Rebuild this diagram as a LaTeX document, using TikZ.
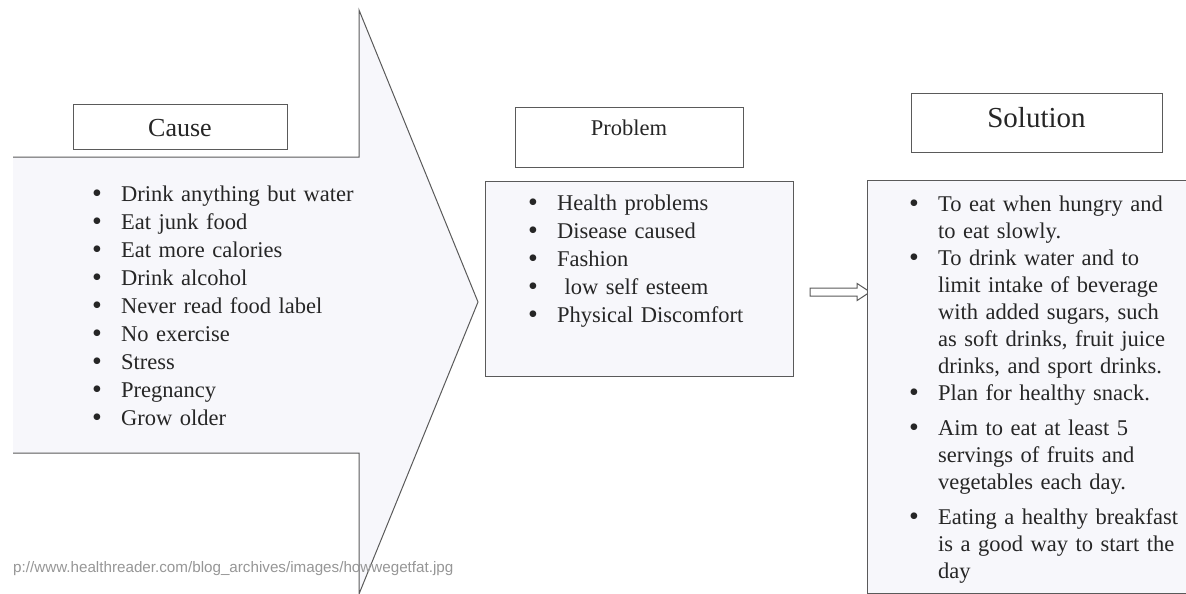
\documentclass[tikz,border=0pt]{standalone}
\usepackage{fontspec}
\setmainfont{Liberation Serif}
\newfontfamily\linkfont{Liberation Sans}
\usepackage{tikz}
\usetikzlibrary{positioning}
\usetikzlibrary{shapes.arrows}

\definecolor{inkgray}{RGB}{90,90,90}
\definecolor{paletint}{RGB}{247,247,251}
\definecolor{linkgray}{RGB}{150,150,150}

\hyphenpenalty=10000

\newcommand{\dotmark}{\raisebox{-1.5pt}{\fontsize{28pt}{28pt}\selectfont\textbullet}}

\newenvironment{dotlist}{%
	\begin{list}{\dotmark}{%
		\setlength{\leftmargin}{29pt}%
		\setlength{\labelwidth}{29pt}%
		\setlength{\labelsep}{0pt}%
		\setlength{\itemsep}{0pt}%
		\setlength{\parsep}{0pt}%
		\setlength{\topsep}{0pt}%
		\def\makelabel##1{\makebox[29pt][l]{##1}}}%
}{\end{list}}

\begin{document}
\begin{tikzpicture}	[
	x=1pt, y=-1pt,
	outline/.style={draw=inkgray, line width=1pt},
	headbox/.style={outline, fill=white, inner sep=0pt, anchor=north},
	frame/.style={outline, fill=paletint, inner sep=0pt, anchor=north west},
	listbox/.style={inner sep=0pt, anchor=base west, align=left},
	every node/.style={text=black!85}
]
	\useasboundingbox (0,0) rectangle (1186,594);
	\clip (0,0) rectangle (1186,594);

	% the big arrow holding the causes
	\fill[paletint]
		(13,157) -- (359,157) -- (359,10) -- (478,302)
		-- (359,594) -- (359,453) -- (13,453) -- cycle
	;
	\draw[outline]
		(13,157) -- (359,157) -- (359,10) -- (478,302)
		-- (359,594) -- (359,453) -- (13,453)
	;

	\node[headbox, minimum width=214pt, text height=32pt, text depth=13pt,
		font=\fontsize{26pt}{30pt}\selectfont] (causehead) at (180,104) {Cause};
	\node[listbox, text width=300pt, font=\fontsize{22.5pt}{28pt}\selectfont]
		(causelist) at (92,173) {%
		\begin{dotlist}
			\item Drink anything but water
			\item Eat junk food
			\item Eat more calories
			\item Drink alcohol
			\item Never read food label
			\item No exercise
			\item Stress
			\item Pregnancy
			\item Grow older
		\end{dotlist}};

	% problem column
	\node[headbox, minimum width=228pt, text height=28pt, text depth=32pt,
		font=\fontsize{22.5pt}{28pt}\selectfont] (probhead) at (629,107) {Problem};
	\node[frame, minimum width=308pt, minimum height=195pt] (probframe) at (485,181) {};
	\node[listbox, text width=260pt, font=\fontsize{22.5pt}{28pt}\selectfont]
		(problist) at (528,182) {%
		\begin{dotlist}
			\item Health problems
			\item Disease caused
			\item Fashion
			\item \ low self esteem
			\item Physical Discomfort
		\end{dotlist}};

	\node[single arrow, outline, fill=white, inner sep=0pt, minimum height=60pt,
		text height=0pt, text depth=0pt, inner ysep=3.5pt,
		single arrow head extend=4.5pt, single arrow tip angle=67] (link) at (837,292) {};

	% solution column
	\node[headbox, minimum width=251pt, text height=34pt, text depth=25pt,
		font=\fontsize{29pt}{33pt}\selectfont] (solhead) at (1036.5,93) {Solution};
	\node[frame, minimum width=340pt, minimum height=413pt] (solframe) at (867,180) {};
	\node[listbox, text width=269pt, font=\fontsize{22.5pt}{27pt}\selectfont]
		(sollist) at (909,184) {%
		\begin{dotlist}
			\item To eat when hungry and to eat slowly.
			\item To drink water and to limit intake of beverage with added sugars, such as soft drinks, fruit juice drinks, and sport drinks.
			\item Plan for healthy snack.
			\setlength{\itemsep}{8pt}
			\item Aim to eat at least 5 servings of fruits and vegetables each day.
			\item Eating a healthy breakfast is a good way to start the day
		\end{dotlist}};

	\node[anchor=base west, inner sep=0pt, text=linkgray,
		font=\linkfont\fontsize{15.2pt}{17pt}\selectfont] (source) at (13,572)
		{p://www.healthreader.com/blog\_archives/images/howwegetfat.jpg};
\end{tikzpicture}
\end{document}
